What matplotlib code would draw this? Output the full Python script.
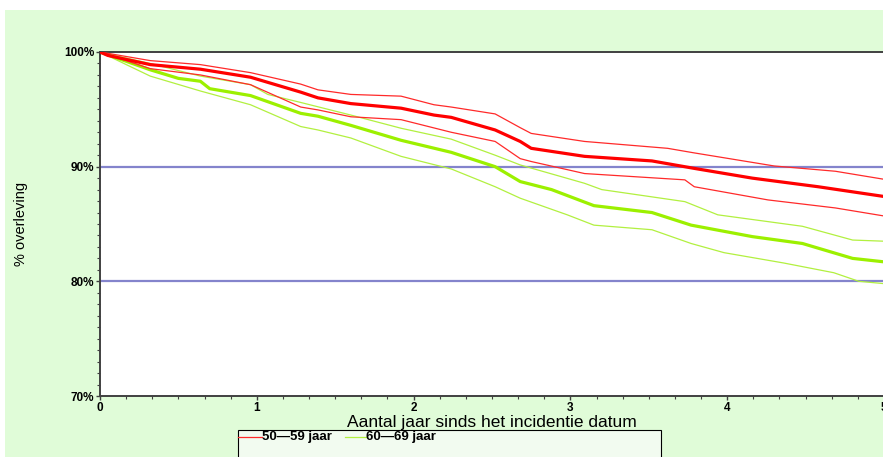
import matplotlib
matplotlib.use("Agg")
import matplotlib.pyplot as plt
from matplotlib.patches import Rectangle
from matplotlib.lines import Line2D
from matplotlib.ticker import MultipleLocator, FuncFormatter

# Survival curves (years since incidence, % surviving)
t_red = [0, 0.05, 0.32, 0.64, 0.96, 1.28, 1.39, 1.6, 1.92, 2.13, 2.24, 2.52, 2.68, 2.75, 3.09, 3.52, 3.79, 4.16, 4.58, 5.0]
red_est = [100, 99.7, 98.9, 98.5, 97.8, 96.5, 96.0, 95.5, 95.1, 94.5, 94.3, 93.2, 92.2, 91.6, 90.9, 90.5, 89.85, 89.0, 88.25, 87.4]

t_red_hi = [0, 0.32, 0.64, 0.96, 1.28, 1.39, 1.6, 1.92, 2.13, 2.24, 2.52, 2.68, 2.75, 3.09, 3.62, 3.79, 4.3, 4.69, 5.0]
red_hi = [100, 99.25, 98.9, 98.2, 97.2, 96.7, 96.3, 96.15, 95.4, 95.2, 94.6, 93.4, 92.9, 92.2, 91.6, 91.2, 90.06, 89.6, 88.9]

t_red_lo = [0, 0.32, 0.64, 0.96, 1.28, 1.39, 1.6, 1.92, 2.24, 2.52, 2.68, 2.75, 3.09, 3.73, 3.79, 4.26, 4.69, 5.0]
red_lo = [100, 98.55, 98.0, 97.15, 95.2, 94.95, 94.35, 94.1, 93.0, 92.2, 90.7, 90.45, 89.4, 88.85, 88.25, 87.1, 86.4, 85.7]

t_grn = [0, 0.32, 0.5, 0.64, 0.7, 0.96, 1.28, 1.39, 1.6, 1.92, 2.24, 2.52, 2.68, 2.88, 3.15, 3.52, 3.77, 4.16, 4.48, 4.8, 5.0]
grn_est = [100, 98.45, 97.7, 97.45, 96.8, 96.2, 94.65, 94.4, 93.6, 92.3, 91.25, 90.0, 88.7, 88.0, 86.6, 86.0, 84.9, 83.9, 83.3, 82.0, 81.7]

t_grn_hi = [0, 0.32, 0.64, 0.96, 1.07, 1.28, 1.6, 1.92, 2.24, 2.52, 2.68, 3.09, 3.2, 3.73, 3.94, 4.48, 4.8, 5.0]
grn_hi = [100, 99.0, 97.9, 97.15, 96.3, 95.6, 94.5, 93.35, 92.4, 91.0, 90.15, 88.55, 88.0, 86.95, 85.8, 84.8, 83.6, 83.5]

t_grn_lo = [0, 0.32, 0.64, 0.96, 1.28, 1.39, 1.6, 1.92, 2.24, 2.52, 2.68, 2.98, 3.15, 3.52, 3.77, 3.98, 4.36, 4.68, 4.84, 5.0]
grn_lo = [100, 97.9, 96.6, 95.4, 93.5, 93.2, 92.5, 90.9, 89.8, 88.25, 87.25, 85.8, 84.9, 84.5, 83.3, 82.5, 81.6, 80.75, 80.0, 79.8]

ref_lines = [90, 80]
groups = ["50\u201459 jaar", "60\u201469 jaar"]

RED = "#ff0000"
RED_THIN = "#ff2a2a"
GREEN = "#9cf000"
GREEN_THIN = "#b2f040"
BG = "#e0fcd8"

plt.rcParams["font.family"] = ["Liberation Sans", "DejaVu Sans"]

fig = plt.figure(figsize=(8.83, 4.57), dpi=100, facecolor="white")
# light green panel (white strip at top/left like the original)
fig.patches.append(Rectangle((5 / 883, 0), 1, 1 - 10 / 457, transform=fig.transFigure,
                             facecolor=BG, edgecolor="none", zorder=-10))

ax = fig.add_axes([100 / 883, 61 / 457, 784 / 883, 344 / 457])
ax.set_facecolor("white")

for y in ref_lines:
    ax.axhline(y, color="#8484cc", lw=1.6, zorder=1)

ax.plot(t_red_hi, red_hi, color=RED_THIN, lw=0.9, zorder=3)
ax.plot(t_red_lo, red_lo, color=RED_THIN, lw=0.9, zorder=3)
ax.plot(t_grn_hi, grn_hi, color=GREEN_THIN, lw=0.9, zorder=2)
ax.plot(t_grn_lo, grn_lo, color=GREEN_THIN, lw=0.9, zorder=2)
ax.plot(t_grn, grn_est, color=GREEN, lw=2.3, zorder=2)
ax.plot(t_red, red_est, color=RED, lw=2.3, zorder=3)

ax.set_xlim(0, 5)
ax.set_ylim(70, 100)
ax.xaxis.set_major_locator(MultipleLocator(1))
ax.xaxis.set_minor_locator(MultipleLocator(1 / 6))
ax.yaxis.set_major_locator(MultipleLocator(10))
ax.yaxis.set_minor_locator(MultipleLocator(1))
ax.yaxis.set_major_formatter(FuncFormatter(lambda v, p: f"{v:.0f}%"))

for side in ["left", "bottom", "top", "right"]:
    ax.spines[side].set_color("#404040")
    ax.spines[side].set_linewidth(1.4)

ax.tick_params(axis="both", which="both", direction="out", color="#404040",
               labelsize=8.5, pad=1)
ax.tick_params(axis="both", which="major", length=3, width=1)
ax.tick_params(axis="both", which="minor", length=2, width=0.8)
for lab in ax.get_xticklabels() + ax.get_yticklabels():
    lab.set_fontweight("bold")

ax.set_xlabel("Aantal jaar sinds het incidentie datum", fontsize=12.5, labelpad=1)
ax.set_ylabel("% overleving", fontsize=10.5, labelpad=26)

# legend box at the bottom
fig.patches.append(Rectangle((238 / 883, -0.02), 423 / 883, (457 - 430) / 457 + 0.02,
                             transform=fig.transFigure, facecolor="#f2fbf0",
                             edgecolor="black", lw=0.8, zorder=5))
ly = 1 - 437 / 457
fig.lines.append(Line2D([238 / 883, 262 / 883], [ly, ly], transform=fig.transFigure,
                        color=RED_THIN, lw=0.9, zorder=6))
fig.text(262 / 883, ly, groups[0], fontsize=9.5, fontweight="bold", va="center", zorder=6)
fig.lines.append(Line2D([345 / 883, 366 / 883], [ly, ly], transform=fig.transFigure,
                        color=GREEN_THIN, lw=0.9, zorder=6))
fig.text(366 / 883, ly, groups[1], fontsize=9.5, fontweight="bold", va="center", zorder=6)

fig.savefig("out.png", dpi=100)
